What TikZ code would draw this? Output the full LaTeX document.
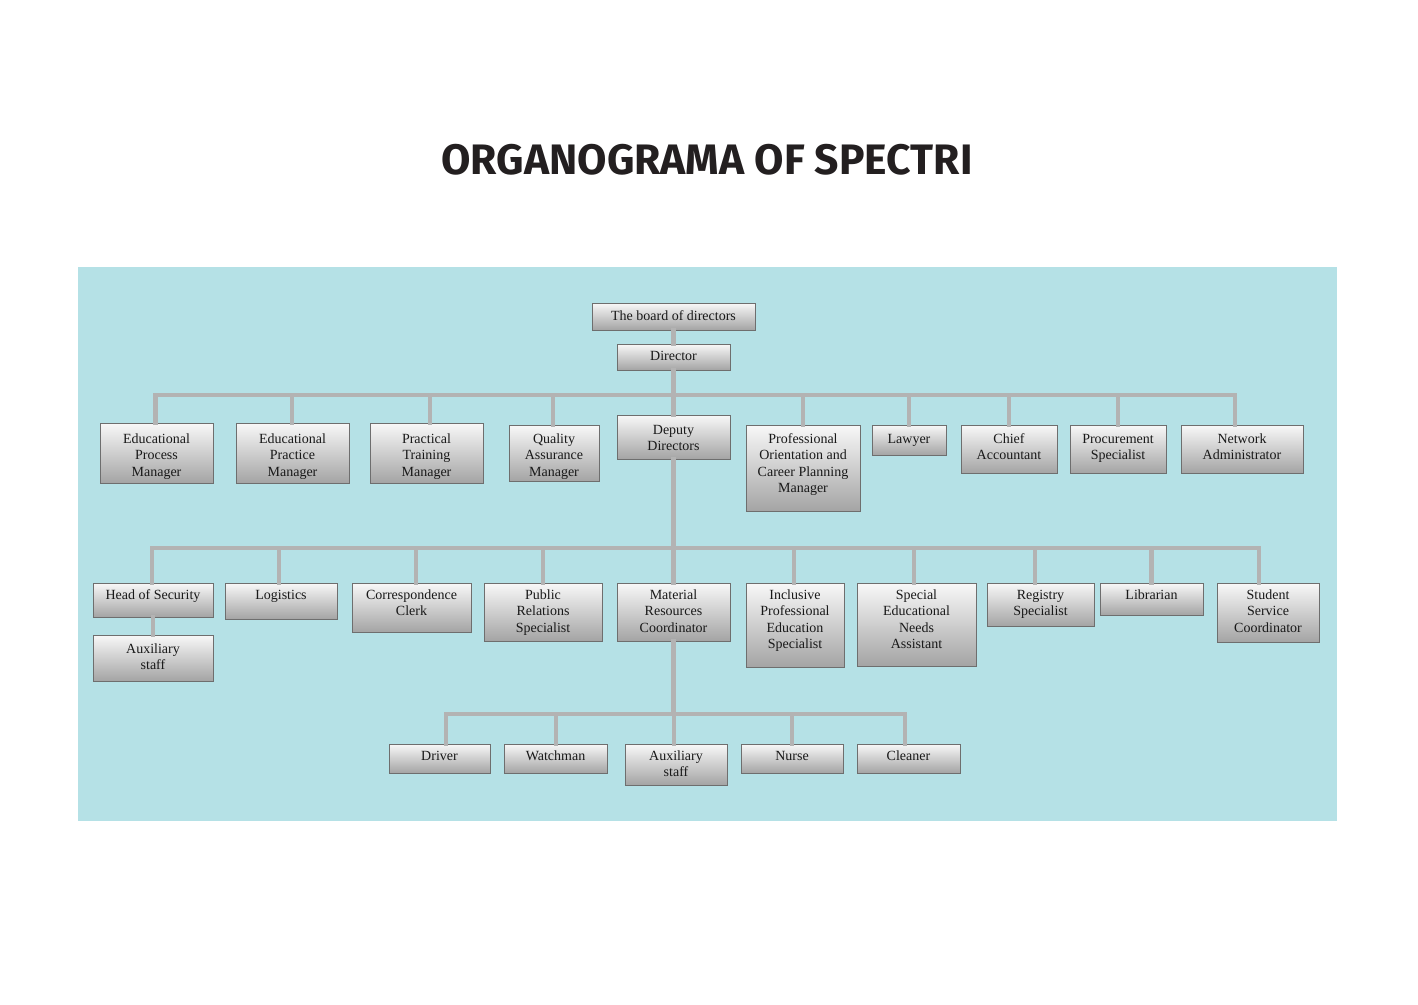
\documentclass[tikz,border=0pt]{standalone}
\usepackage{fontspec}
\usetikzlibrary{calc}
\newfontfamily\boxfont{Liberation Serif}
\newfontfamily\titlefont{Fira Sans}
\definecolor{bgcyan}{HTML}{B5E1E6}
\definecolor{conncol}{HTML}{B3B3B3}
\definecolor{boxborder}{HTML}{6E6E6E}
\definecolor{boxtop}{HTML}{F8F8F8}
\definecolor{boxbot}{HTML}{A4A4A4}
\definecolor{titlecol}{HTML}{231F20}
\tikzset{
  box/.style={draw=boxborder, line width=0.9pt, top color=boxtop, bottom color=boxbot,
    inner sep=0pt, outer sep=0pt, rectangle},
  lbl/.style={anchor=north, label distance=0pt, inner sep=0pt, align=center,
    font=\boxfont\fontsize{14}{16.4}\selectfont, text=black!90},
  conn/.style={draw=conncol, line width=4.5pt, line join=miter, line cap=rect}
}
% \bx{name}{x1}{y1}{x2}{y2}{text}{offset}
\newcommand\bx[7]{%
  \node[box, minimum width=#4pt-#2pt, minimum height=#5pt-#3pt,
    label={[lbl, yshift=-#7pt]north:{\rule{0pt}{10.5pt}#6}}] (#1) at ({(#2+#4)/2},{(#3+#5)/2}) {};}
\begin{document}
\begin{tikzpicture}[x=1pt,y=-1pt]
\useasboundingbox (0,0) rectangle (1418,1004);
\fill[white] (0,0) rectangle (1418,1004);
\fill[bgcyan] (78,267) rectangle (1337,821);
\node[text=titlecol, inner sep=0pt] (title) at (707,160)
  {\resizebox{531pt}{!}{\titlefont\bfseries ORGANOGRAMA OF SPECTRI}};

% level 0
\bx{board}{592}{303}{755}{330}{The board of directors}{6.5}
\bx{director}{617}{344}{730}{370}{Director}{5.5}
% level 1
\bx{epm}{100}{423}{213}{483}{Educational\\Process\\Manager}{9.5}
\bx{eprm}{236}{423}{349}{483}{Educational\\Practice\\Manager}{9.5}
\bx{ptm}{370}{423}{483}{483}{Practical\\Training\\Manager}{9.5}
\bx{qam}{509}{425}{599}{481}{Quality\\Assurance\\Manager}{7.5}
\bx{dep}{617}{415}{730}{459}{Deputy\\Directors}{8.5}
\bx{pocp}{746}{425}{860}{511}{Professional\\Orientation and\\Career Planning\\Manager}{7.5}
\bx{law}{872}{425}{946}{455}{Lawyer}{7.5}
\bx{ca}{961}{425}{1057}{473}{Chief\\Accountant}{7.5}
\bx{proc}{1070}{425}{1166}{473}{Procurement\\Specialist}{7.5}
\bx{net}{1181}{425}{1303}{473}{Network\\Administrator}{7.5}
% level 2
\bx{hos}{93}{583}{213}{617}{Head of Security}{5.5}
\bx{log}{225}{583}{337}{619}{Logistics}{5.5}
\bx{cc}{352}{583}{471}{632}{Correspondence\\Clerk}{5.5}
\bx{prs}{484}{583}{602}{641}{Public\\Relations\\Specialist}{5.5}
\bx{mrc}{617}{583}{730}{641}{Material\\Resources\\Coordinator}{5.5}
\bx{ipes}{746}{583}{844}{667}{Inclusive\\Professional\\Education\\Specialist}{5.5}
\bx{sena}{857}{583}{976}{666}{Special\\Educational\\Needs\\Assistant}{5.5}
\bx{rs}{987}{583}{1094}{626}{Registry\\Specialist}{5.5}
\bx{lib}{1100}{583}{1203}{615}{Librarian}{5.5}
\bx{ssc}{1217}{583}{1319}{642}{Student\\Service\\Coordinator}{5.5}
\bx{auxa}{93}{635}{213}{681}{Auxiliary\\staff}{7.5}
% level 3
\bx{drv}{389}{744}{490}{773}{Driver}{5.5}
\bx{wat}{504}{744}{607}{773}{Watchman}{5.5}
\bx{auxb}{625}{744}{727}{785}{Auxiliary\\staff}{5.5}
\bx{nur}{741}{744}{843}{773}{Nurse}{5.5}
\bx{cln}{857}{744}{960}{773}{Cleaner}{5.5}

% connectors
\coordinate (b1) at ($(director.south)+(0,25)$);
\coordinate (b2) at ($(dep.south)+(0,89)$);
\coordinate (b3) at ($(mrc.south)+(0,73)$);
\draw[conn] (board.south) -- (director.north);
\draw[conn] (director.south) -- (b1) -- (dep.north);
\draw[conn] (b1) -| ([xshift=-1pt]epm.north);
\draw[conn] (b1) -| ([xshift=-0.5pt]eprm.north);
\draw[conn] (b1) -| ([xshift=3.5pt]ptm.north);
\draw[conn] (b1) -| ([xshift=-1pt]qam.north);
\draw[conn] (b1) -| (pocp.north);
\draw[conn] (b1) -| (law.north);
\draw[conn] (b1) -| (ca.north);
\draw[conn] (b1) -| (proc.north);
\draw[conn] (b1) -| ([xshift=-7pt]net.north);
\draw[conn] (dep.south) -- (b2) -- (mrc.north);
\draw[conn] (b2) -| ([xshift=-1pt]hos.north);
\draw[conn] (b2) -| ([xshift=-2pt]log.north);
\draw[conn] (b2) -| ([xshift=4.5pt]cc.north);
\draw[conn] (b2) -| (prs.north);
\draw[conn] (b2) -| ([xshift=-1pt]ipes.north);
\draw[conn] (b2) -| ([xshift=-2.5pt]sena.north);
\draw[conn] (b2) -| ([xshift=-5.5pt]rs.north);
\draw[conn] (b2) -| (lib.north);
\draw[conn] (b2) -| ([xshift=-9pt]ssc.north);
\draw[conn] (hos.south) -- ([xshift=0pt]auxa.north);
\draw[conn] (mrc.south) -- (b3);
\draw[conn] (b3) -| ([xshift=6.5pt]drv.north);
\draw[conn] (b3) -| ([xshift=0.5pt]wat.north);
\draw[conn] (b3) -| ([xshift=-2pt]auxb.north);
\draw[conn] (b3) -| ([xshift=0pt]nur.north);
\draw[conn] (b3) -| ([xshift=-3.5pt]cln.north);
\end{tikzpicture}
\end{document}
